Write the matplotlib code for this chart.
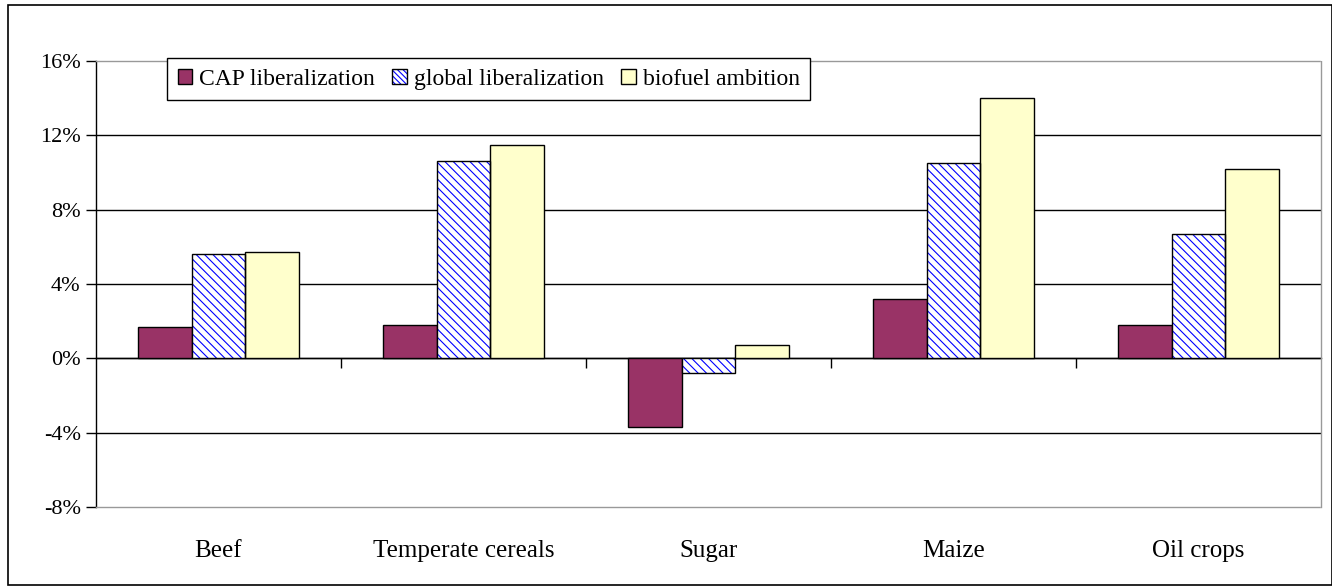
import matplotlib
matplotlib.use('Agg')
import matplotlib.pyplot as plt
import matplotlib.ticker as ticker
from matplotlib.patches import Patch, Rectangle
from matplotlib.legend_handler import HandlerTuple
import numpy as np

CATEGORIES = ['Beef', 'Temperate cereals', 'Sugar', 'Maize', 'Oil crops']
SERIES = ['CAP liberalization', 'global liberalization', 'biofuel ambition']

CAP = [1.7, 1.8, -3.7, 3.2, 1.8]
GLOBAL = [5.6, 10.6, -0.8, 10.5, 6.7]
BIOFUEL = [5.7, 11.5, 0.7, 14.0, 10.2]

Y_TICKS = [-8, -4, 0, 4, 8, 12, 16]

plt.rcParams['font.family'] = ['Liberation Serif', 'DejaVu Serif']
plt.rcParams['hatch.linewidth'] = 0.8

fig = plt.figure(figsize=(13.32, 5.87), dpi=100)
ax = fig.add_axes([96 / 1332, 1 - 507 / 587, 1225 / 1332, 446 / 587])

x = np.arange(len(CATEGORIES))
w = 0.22

ax.bar(x - w, CAP, w, color='#993366', edgecolor='black', linewidth=1, zorder=3)
# hatched bars: blue hatch layer + black outline layer
ax.bar(x, GLOBAL, w, color='white', edgecolor='#0000ff', hatch='\\\\\\\\',
       linewidth=0, zorder=3)
ax.bar(x, GLOBAL, w, fill=False, edgecolor='black', linewidth=1, zorder=4)
ax.bar(x + w, BIOFUEL, w, color='#ffffcc', edgecolor='black', linewidth=1, zorder=3)

ax.set_xlim(-0.5, len(CATEGORIES) - 0.5)
ax.set_ylim(-8, 16)
ax.set_yticks(Y_TICKS)
ax.yaxis.set_major_formatter(ticker.FuncFormatter(lambda v, p: f'{v:.0f}%'))
ax.tick_params(axis='y', direction='out', length=7, width=1, labelsize=16, pad=4)

for v in Y_TICKS[1:-1]:
    ax.axhline(v, color='black', linewidth=1, zorder=1)

ax.set_xticks(x)
ax.set_xticklabels(CATEGORIES, fontsize=18)
ax.tick_params(axis='x', length=0, pad=24)

for s in ['top', 'right', 'bottom']:
    ax.spines[s].set_color('#999999')
    ax.spines[s].set_linestyle((0, (1, 1)))
    ax.spines[s].set_linewidth(1)
ax.spines['left'].set_color('black')
ax.spines['left'].set_linewidth(1)

# zero line with category boundary ticks
sec = ax.secondary_xaxis(1 / 3)
sec.set_xticks(x[:-1] + 0.5)
sec.set_xticklabels([])
sec.tick_params(direction='out', length=7, width=1)
sec.spines['bottom'].set_linewidth(1)
sec.spines['bottom'].set_zorder(5)

h_global = (Patch(facecolor='white', edgecolor='#0000ff', hatch='\\\\\\\\\\\\', linewidth=0),
            Patch(fill=False, edgecolor='black', linewidth=1))
handles = [Patch(facecolor='#993366', edgecolor='black', linewidth=1), h_global,
           Patch(facecolor='#ffffcc', edgecolor='black', linewidth=1)]
leg = ax.legend(handles, SERIES, handler_map={tuple: HandlerTuple(ndivide=1, pad=0)},
                loc='upper left', bbox_to_anchor=(0.058, 1.007), ncol=3,
                fontsize=17, frameon=True, fancybox=False, edgecolor='black',
                framealpha=1, borderaxespad=0, handlelength=0.6, handleheight=0.6,
                handletextpad=0.3, columnspacing=0.75, borderpad=0.45)
leg.get_frame().set_linewidth(1)
leg.set_zorder(10)

fig.patches.append(Rectangle((8 / 1332, 2 / 587), 1 - 8 / 1332, 1 - 7 / 587,
                             transform=fig.transFigure, fill=False,
                             edgecolor='black', linewidth=1.2))

fig.savefig('out.png', dpi=100)
